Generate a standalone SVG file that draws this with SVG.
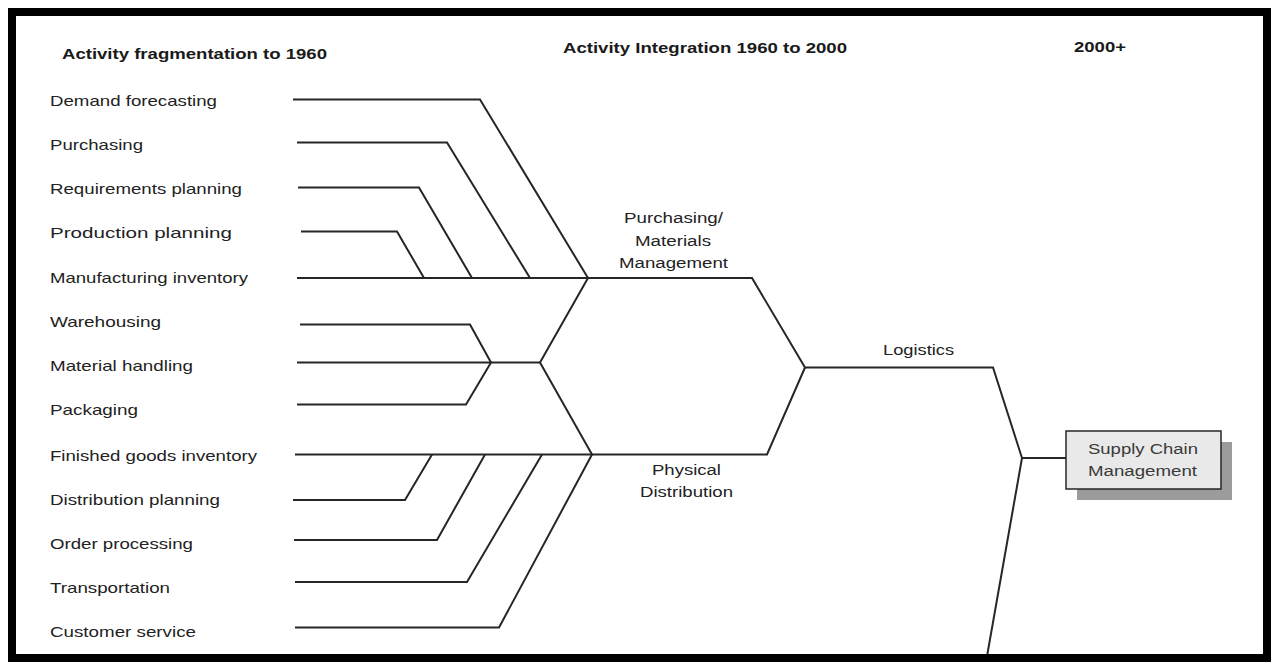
<svg xmlns="http://www.w3.org/2000/svg" width="1274" height="662" viewBox="0 0 1274 662">
  <style>
    .lbl { font-family: "Liberation Sans", Arial, sans-serif; font-size: 15px; fill: #222; }
    .hdr { font-family: "Liberation Sans", Arial, sans-serif; font-size: 15px; font-weight: bold; fill: #1a1a1a; }
    .mid { font-family: "Liberation Sans", Arial, sans-serif; font-size: 14px; fill: #222; }
    .box-txt { font-family: "Liberation Sans", Arial, sans-serif; font-size: 14px; fill: #3a3a3a; }
    .wire { fill: none; stroke: #262626; stroke-width: 2; stroke-linejoin: miter; }
  </style>

  <!-- background and outer frame -->
  <rect x="0" y="0" width="1274" height="662" fill="#ffffff"/>

  <!-- era headings -->
  <g id="heading-fragmentation">
    <text class="hdr" x="62" y="59" textLength="265" lengthAdjust="spacingAndGlyphs">Activity fragmentation to 1960</text>
  </g>
  <g id="heading-integration">
    <text class="hdr" x="563" y="53" textLength="284" lengthAdjust="spacingAndGlyphs">Activity Integration 1960 to 2000</text>
  </g>
  <g id="heading-2000">
    <text class="hdr" x="1074" y="52" textLength="52" lengthAdjust="spacingAndGlyphs">2000+</text>
  </g>

  <!-- individual activities -->
  <g id="demand-forecasting"><text class="lbl" x="50" y="106" textLength="167" lengthAdjust="spacingAndGlyphs">Demand forecasting</text></g>
  <g id="purchasing"><text class="lbl" x="50" y="150" textLength="93" lengthAdjust="spacingAndGlyphs">Purchasing</text></g>
  <g id="requirements-planning"><text class="lbl" x="50" y="194" textLength="192" lengthAdjust="spacingAndGlyphs">Requirements planning</text></g>
  <g id="production-planning"><text class="lbl" x="50" y="238" textLength="182" lengthAdjust="spacingAndGlyphs">Production planning</text></g>
  <g id="manufacturing-inventory"><text class="lbl" x="50" y="283" textLength="198" lengthAdjust="spacingAndGlyphs">Manufacturing inventory</text></g>
  <g id="warehousing"><text class="lbl" x="50" y="327" textLength="111" lengthAdjust="spacingAndGlyphs">Warehousing</text></g>
  <g id="material-handling"><text class="lbl" x="50" y="371" textLength="143" lengthAdjust="spacingAndGlyphs">Material handling</text></g>
  <g id="packaging"><text class="lbl" x="50" y="415" textLength="88" lengthAdjust="spacingAndGlyphs">Packaging</text></g>
  <g id="finished-goods-inventory"><text class="lbl" x="50" y="461" textLength="207" lengthAdjust="spacingAndGlyphs">Finished goods inventory</text></g>
  <g id="distribution-planning"><text class="lbl" x="50" y="505" textLength="170" lengthAdjust="spacingAndGlyphs">Distribution planning</text></g>
  <g id="order-processing"><text class="lbl" x="50" y="549" textLength="143" lengthAdjust="spacingAndGlyphs">Order processing</text></g>
  <g id="transportation"><text class="lbl" x="50" y="593" textLength="120" lengthAdjust="spacingAndGlyphs">Transportation</text></g>
  <g id="customer-service"><text class="lbl" x="50" y="637" textLength="146" lengthAdjust="spacingAndGlyphs">Customer service</text></g>

  <!-- integrated functions -->
  <g id="purchasing-materials-management">
    <text class="mid" x="624" y="223" textLength="99" lengthAdjust="spacingAndGlyphs">Purchasing/</text>
    <text class="mid" x="635" y="246" textLength="76" lengthAdjust="spacingAndGlyphs">Materials</text>
    <text class="mid" x="619" y="268" textLength="109" lengthAdjust="spacingAndGlyphs">Management</text>
  </g>
  <g id="physical-distribution">
    <text class="mid" x="652" y="475" textLength="69" lengthAdjust="spacingAndGlyphs">Physical</text>
    <text class="mid" x="640" y="497" textLength="93" lengthAdjust="spacingAndGlyphs">Distribution</text>
  </g>
  <g id="logistics">
    <text class="mid" x="883" y="355" textLength="71" lengthAdjust="spacingAndGlyphs">Logistics</text>
  </g>

  <!-- supply chain management box with drop shadow -->
  <g id="supply-chain-management">
    <rect x="1077" y="442" width="155" height="58" fill="#9b9b9b"/>
    <rect x="1066" y="431" width="155" height="58" fill="#e9e9e9" stroke="#262626" stroke-width="1.5"/>
    <text class="box-txt" x="1088" y="454" textLength="110" lengthAdjust="spacingAndGlyphs">Supply Chain</text>
    <text class="box-txt" x="1088" y="476" textLength="109" lengthAdjust="spacingAndGlyphs">Management</text>
  </g>

  <!-- converging lines -->
  <g id="connectors" class="wire">
    <path d="M293,99.5 H480 L588,278"/>
    <path d="M297,142.5 H447 L530,278"/>
    <path d="M298,187.5 H419 L472,278"/>
    <path d="M301,231.5 H397 L424,278"/>
    <path d="M297,278 H752 L805,367.5"/>
    <path d="M300,324.5 H470 L491,362.5"/>
    <path d="M297,362.5 H540"/>
    <path d="M297,404.5 H466 L491,362.5"/>
    <path d="M588,278 L540,362.5 L592,454.5"/>
    <path d="M295,454.5 H767 L805,367.5"/>
    <path d="M293,500 H405 L432,454.5"/>
    <path d="M294,540 H437 L485,454.5"/>
    <path d="M295,582 H467 L542,454.5"/>
    <path d="M295,627.5 H499 L592,454.5"/>
    <path d="M805,367.5 H993 L1022,458 L986,662"/>
    <path d="M1022,458 H1066"/>
  </g>

  <!-- frame -->
  <rect x="12" y="12" width="1255" height="646" fill="none" stroke="#000" stroke-width="8"/>
</svg>
